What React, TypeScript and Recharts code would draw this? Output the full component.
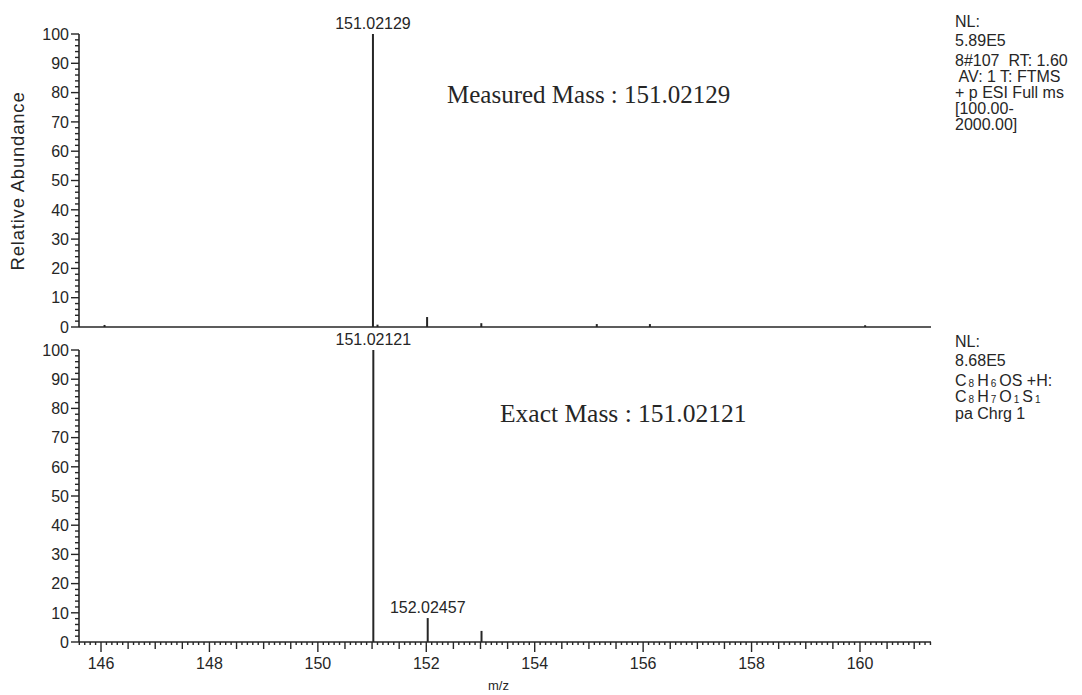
import { BarChart, Bar, XAxis, YAxis, LabelList } from 'recharts';

// measured spectrum (top panel)
const measuredMz = [146.07, 151.02129, 151.105, 152.02, 153.02, 155.15, 156.13, 160.1];
const measuredAbundance = [0.7, 100, 0.8, 3.4, 1.3, 1.0, 1.0, 0.6];
const measuredLabels = ['', '151.02129', '', '', '', '', '', ''];

// theoretical spectrum (bottom panel)
const exactMz = [151.02121, 152.02457, 153.017];
const exactAbundance = [100, 8.2, 3.8];
const exactLabels = ['151.02121', '152.02457', ''];

const yLabelTicks = [0, 10, 20, 30, 40, 50, 60, 70, 80, 90, 100];
const xLabelTicks = [146, 148, 150, 152, 154, 156, 158, 160];
const mzDomain: [number, number] = [145.594, 161.31];

const measuredInfo = ['NL:', '5.89E5', '8#107  RT: 1.60', ' AV: 1 T: FTMS', '+ p ESI Full ms', '[100.00-', '2000.00]'];
const measuredInfoTop = [13, 32, 52, 68, 84, 100, 116];

const INK = '#262626';
const SANS = 'Arial, "Liberation Sans", Helvetica, sans-serif';
const SERIF = '"Times New Roman", "Liberation Serif", serif';

const measuredData = measuredMz.map((mz, i) => ({ mz, abundance: measuredAbundance[i], label: measuredLabels[i] }));
const exactData = exactMz.map((mz, i) => ({ mz, abundance: exactAbundance[i], label: exactLabels[i] }));

// minor ticks every 2 % and every 0.1 m/z
const yTicks: number[] = [];
for (let v = 0; v <= 100; v += 2) yTicks.push(v);
const xTicks: number[] = [];
for (let t = 1456; t <= 1613; t++) xTicks.push(t / 10);

function YTick(props: any) {
  const { x, y, payload } = props;
  const v = payload.value;
  const major = yLabelTicks.includes(v);
  return (
    <g>
      <line x1={x} x2={x - (major ? 8 : 4)} y1={y} y2={y} stroke={INK} strokeWidth={1.4} />
      {major && (
        <text x={x - 10} y={y} dy="0.36em" textAnchor="end" fontSize={16} fontFamily={SANS} fill={INK}>
          {v}
        </text>
      )}
    </g>
  );
}

function XTick(props: any) {
  const { x, y, payload } = props;
  const tenths = Math.round(payload.value * 10);
  const major = xLabelTicks.includes(tenths / 10);
  const mid = tenths % 5 === 0;
  const len = major ? 10 : mid ? 7 : 3;
  return (
    <g>
      <line x1={x} x2={x} y1={y} y2={y + len} stroke={INK} strokeWidth={1.4} />
      {major && (
        <text x={x} y={y + 21} dy="0.36em" textAnchor="middle" fontSize={16} fontFamily={SANS} fill={INK}>
          {tenths / 10}
        </text>
      )}
    </g>
  );
}

function PeakLabel(props: any) {
  const vb = props.viewBox ?? props;
  if (!props.value) return null;
  return (
    <text x={vb.x + vb.width / 2} y={vb.y - 5} textAnchor="middle" fontSize={16} fontFamily={SANS} fill={INK}>
      {props.value}
    </text>
  );
}

function Sub({ children }: { children: string }) {
  return <span style={{ fontSize: 10, position: 'relative', top: 1, margin: '0 3px 0 2px' }}>{children}</span>;
}

const textStyle: React.CSSProperties = {
  position: 'absolute',
  fontFamily: SANS,
  fontSize: 16,
  color: INK,
  whiteSpace: 'pre',
  lineHeight: '16px',
};

export default function App() {
  return (
    <div style={{ position: 'absolute', left: 0, top: 0, width: 1082, height: 695, background: '#fff' }}>
      <div style={{ position: 'absolute', left: 0, top: 0 }}>
        <BarChart width={1082} height={345} data={measuredData} margin={{ top: 34, right: 151, bottom: 17, left: 0 }}>
          <XAxis
            dataKey="mz"
            type="number"
            domain={mzDomain}
            allowDataOverflow
            height={1}
            tick={false}
            tickLine={false}
            axisLine={{ stroke: INK, strokeWidth: 1.6 }}
          />
          <YAxis
            type="number"
            domain={[0, 100]}
            width={79}
            ticks={yTicks}
            interval={0}
            tickSize={0}
            tickMargin={0}
            tickLine={false}
            tick={(p: any) => <YTick {...p} />}
            axisLine={{ stroke: INK, strokeWidth: 1.6 }}
          />
          <Bar dataKey="abundance" barSize={2} fill={INK} isAnimationActive={false}>
            <LabelList dataKey="label" content={PeakLabel} />
          </Bar>
        </BarChart>
      </div>

      <div style={{ position: 'absolute', left: 0, top: 330 }}>
        <BarChart width={1082} height={365} data={exactData} margin={{ top: 20, right: 151, bottom: 0, left: 0 }}>
          <XAxis
            dataKey="mz"
            type="number"
            domain={mzDomain}
            allowDataOverflow
            height={53}
            ticks={xTicks}
            interval={0}
            tickSize={0}
            tickMargin={0}
            tickLine={false}
            tick={(p: any) => <XTick {...p} />}
            axisLine={{ stroke: INK, strokeWidth: 1.6 }}
          />
          <YAxis
            type="number"
            domain={[0, 100]}
            width={79}
            ticks={yTicks}
            interval={0}
            tickSize={0}
            tickMargin={0}
            tickLine={false}
            tick={(p: any) => <YTick {...p} />}
            axisLine={{ stroke: INK, strokeWidth: 1.6 }}
          />
          <Bar dataKey="abundance" barSize={2} fill={INK} isAnimationActive={false}>
            <LabelList dataKey="label" content={PeakLabel} />
          </Bar>
        </BarChart>
      </div>

      {/* axis titles */}
      <div
        style={{
          position: 'absolute',
          left: 18,
          top: 181,
          transform: 'translate(-50%, -50%) rotate(-90deg)',
          fontFamily: SANS,
          fontSize: 18.5,
          letterSpacing: 0.8,
          color: INK,
          whiteSpace: 'nowrap',
        }}
      >
        Relative Abundance
      </div>
      <div style={{ ...textStyle, left: 488, top: 678, fontSize: 13 }}>m/z</div>

      {/* in-plot notes */}
      <div style={{ position: 'absolute', left: 447, top: 80, fontFamily: SERIF, fontSize: 25, color: INK, whiteSpace: 'nowrap', lineHeight: '30px' }}>
        Measured Mass : 151.02129
      </div>
      <div style={{ position: 'absolute', left: 500, top: 399, fontFamily: SERIF, fontSize: 25.5, color: INK, whiteSpace: 'nowrap', lineHeight: '30px' }}>
        Exact Mass : 151.02121
      </div>

      {/* scan headers */}
      {measuredInfo.map((line, i) => (
        <div key={line} style={{ ...textStyle, left: 955, top: measuredInfoTop[i] + 1 }}>
          {line}
        </div>
      ))}
      <div style={{ ...textStyle, left: 955, top: 334 }}>NL:</div>
      <div style={{ ...textStyle, left: 955, top: 353 }}>8.68E5</div>
      <div style={{ ...textStyle, left: 955, top: 373 }}>
        C<Sub>8</Sub>H<Sub>6</Sub>OS +H:
      </div>
      <div style={{ ...textStyle, left: 955, top: 389 }}>
        C<Sub>8</Sub>H<Sub>7</Sub>O<Sub>1</Sub>S<Sub>1</Sub>
      </div>
      <div style={{ ...textStyle, left: 955, top: 406 }}>pa Chrg 1</div>
    </div>
  );
}
